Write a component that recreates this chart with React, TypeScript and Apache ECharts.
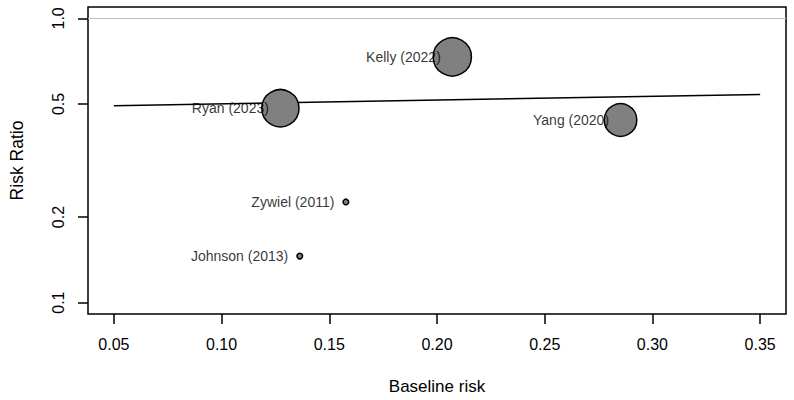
import React, { useEffect, useRef } from "react";
import * as echarts from "echarts";

// Study data
const studies = ["Ryan (2023)", "Kelly (2022)", "Yang (2020)", "Zywiel (2011)", "Johnson (2013)"];
const baselineRisk = [0.1273, 0.2071, 0.2852, 0.1577, 0.1363];
const riskRatio = [0.483, 0.732, 0.439, 0.226, 0.1458];
const weights = [35.0, 36.8, 26.6, 0.8, 0.8]; // relative weight (%)

// Meta-regression line endpoints
const regX = [0.05, 0.35];
const regRR = [0.493, 0.54];

// Axis ticks
const xTicks = [0.05, 0.1, 0.15, 0.2, 0.25, 0.3, 0.35];
const yTicks = [0.1, 0.2, 0.5, 1.0];
const refRR = 1.0;

const FONT = "'Liberation Sans', Arial, Helvetica, sans-serif";

export default function App() {
  const ref = useRef<HTMLDivElement>(null);
  useEffect(() => {
    if (!ref.current) return;
    const chart = echarts.init(ref.current, undefined, { renderer: "svg" });
    const lg = (v: number) => Math.log10(v);
    const points = studies.map((name, i) => ({
      name,
      value: [baselineRisk[i], lg(riskRatio[i])],
      symbolSize: 6.3 * Math.sqrt(weights[i]),
    }));
    const labels = studies.map((name, i) => ({
      name,
      value: [baselineRisk[i], lg(riskRatio[i])],
    }));
    chart.setOption({
      animation: false,
      backgroundColor: "#ffffff",
      textStyle: { fontFamily: FONT },
      grid: {
        left: 87,
        top: 7,
        right: 8,
        bottom: 84,
        show: true,
        borderColor: "#000",
        borderWidth: 1.5,
        containLabel: false,
      },
      xAxis: {
        type: "value",
        min: 0.038,
        max: 0.362,
        name: "Baseline risk",
        nameLocation: "middle",
        nameGap: 64,
        nameTextStyle: { fontSize: 17, color: "#000", fontFamily: FONT },
        axisLine: { show: false, onZero: false },
        splitLine: { show: false },
        axisTick: {
          show: true,
          length: 10,
          customValues: xTicks,
          lineStyle: { color: "#000", width: 1.5 },
        },
        axisLabel: {
          customValues: xTicks,
          margin: 22,
          fontSize: 16,
          color: "#000",
          fontFamily: FONT,
          formatter: (v: number) => v.toFixed(2),
        },
      },
      yAxis: {
        type: "value",
        min: -1.04,
        max: 0.04,
        name: "Risk Ratio",
        nameLocation: "middle",
        nameGap: 62,
        nameTextStyle: { fontSize: 17.5, color: "#000", fontFamily: FONT },
        axisLine: { show: false, onZero: false },
        splitLine: { show: false },
        axisTick: {
          show: true,
          length: 10,
          customValues: yTicks.map(lg),
          lineStyle: { color: "#000", width: 1.5 },
        },
        axisLabel: {
          customValues: yTicks.map(lg),
          rotate: 90,
          margin: 22,
          fontSize: 16,
          color: "#000",
          fontFamily: FONT,
          formatter: (v: number) => Math.pow(10, v).toFixed(1),
        },
      },
      series: [
        {
          type: "line",
          silent: true,
          symbol: "none",
          data: regX.map((x, i) => [x, lg(regRR[i])]),
          lineStyle: { color: "#000", width: 1.5 },
          markLine: {
            silent: true,
            symbol: "none",
            label: { show: false },
            lineStyle: { color: "#c0c0c0", width: 1.2, type: "solid" },
            data: [{ yAxis: lg(refRR) }],
          },
          z: 2,
        },
        {
          type: "scatter",
          silent: true,
          symbol: "circle",
          data: points,
          itemStyle: { color: "#808080", borderColor: "#000", borderWidth: 1.5, opacity: 1 },
          z: 3,
        },
        {
          type: "scatter",
          silent: true,
          symbol: "circle",
          symbolSize: 1,
          data: labels,
          itemStyle: { color: "rgba(0,0,0,0)", borderWidth: 0 },
          label: {
            show: true,
            position: "left",
            distance: 11,
            formatter: "{b}",
            fontSize: 14,
            color: "#000",
            fontFamily: FONT,
          },
          labelLayout: { hideOverlap: false },
          z: 4,
        },
      ],
    });
    return () => chart.dispose();
  }, []);
  return (
    <div
      ref={ref}
      style={{ position: "fixed", left: 0, top: 0, width: 794, height: 400, background: "#fff" }}
    />
  );
}
